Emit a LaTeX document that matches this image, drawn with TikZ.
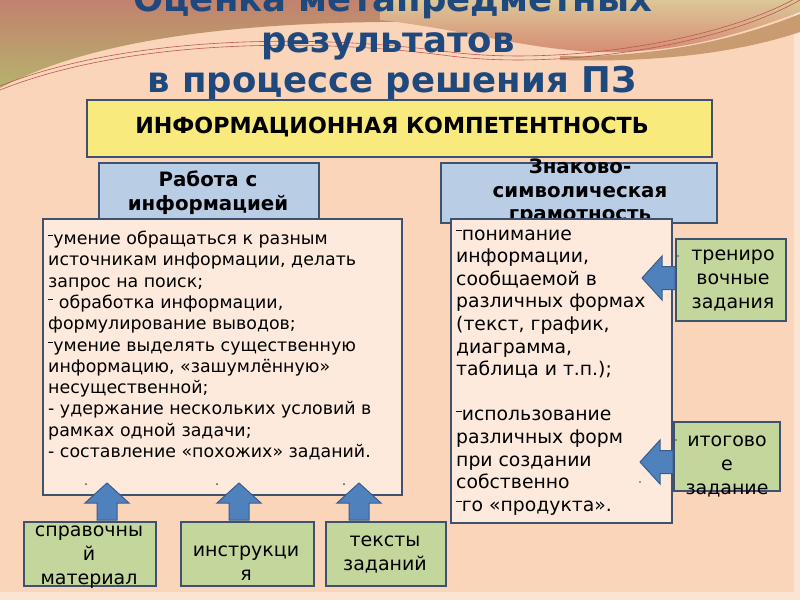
\documentclass[tikz,border=0pt]{standalone}
\usepackage{fontspec}
\setmainfont{DejaVu Sans}
\usetikzlibrary{calc}
\definecolor{bgc}{RGB}{250,213,186}
\definecolor{bgedge}{RGB}{252,228,210}
\definecolor{titlec}{RGB}{31,73,125}
\definecolor{framec}{RGB}{62,82,112}
\definecolor{yellowc}{RGB}{248,234,124}
\definecolor{bluec}{RGB}{185,205,229}
\definecolor{paperc}{RGB}{253,234,221}
\definecolor{greenc}{RGB}{195,214,155}
\definecolor{arrowc}{RGB}{79,129,189}
\definecolor{arrowedge}{RGB}{56,93,138}
\definecolor{decoA}{RGB}{194,130,110}
\definecolor{decoB}{RGB}{182,178,108}
\definecolor{decoC}{RGB}{220,198,152}
\definecolor{decoD}{RGB}{214,138,114}
\definecolor{decoE}{RGB}{200,155,112}
\definecolor{lineC}{RGB}{185,90,80}
\newcommand\blockL[1]{\vtop{\halign{##\hfil\cr#1\crcr}}}
\newcommand\blockC[1]{\vtop{\halign{\hfil##\hfil\cr#1\crcr}}}
\newcommand\hdash{\rule[0.47em]{0.3em}{0.07em}}
\newcommand\uparrowshape[3]{\filldraw[blockarrow] (#1,#2) -- (#1+22,#2+20) -- (#1+10,#2+20) -- (#1+10,#3) -- (#1-10,#3) -- (#1-10,#2+20) -- (#1-22,#2+20) -- cycle;}
\newcommand\leftarrowshape[3]{\filldraw[blockarrow] (#2,#1) -- (#2+20,#1-22) -- (#2+20,#1-11.5) -- (#3,#1-11.5) -- (#3,#1+11.5) -- (#2+20,#1+11.5) -- (#2+20,#1+22) -- cycle;}
\begin{document}
\begin{tikzpicture}[x=1pt,y=-1pt,
  frame/.style={draw=framec, line width=1.5pt, inner sep=0, anchor=north west},
  titletxt/.style={font=\fontsize{35.5}{40}\selectfont\bfseries, text=titlec, inner sep=0, anchor=base},
  bodyL/.style={font=\fontsize{17.4}{21.3}\selectfont, inner sep=0, anchor=base west},
  bodyR/.style={font=\fontsize{18.8}{22.6}\selectfont, inner sep=0, anchor=base west},
  headtxt/.style={font=\fontsize{19.8}{23.5}\selectfont\bfseries, inner sep=0, anchor=base},
  greentxt/.style={font=\fontsize{19}{24}\selectfont, inner sep=0, anchor=base},
  blockarrow/.style={fill=arrowc, draw=arrowedge, line width=1pt, line join=miter},
  tinydot/.style={fill=black!70, draw=none}]
\useasboundingbox (0,0) rectangle (800,600);
\clip (0,0) rectangle (800,600);
% background
\fill[bgc] (0,0) rectangle (800,600);
\fill[bgedge] (794,0) rectangle (800,600);
\fill[bgedge] (0,592) rectangle (800,600);
% decorative waves
\shade[top color=decoA, bottom color=decoB] (0,0) -- (440,0) -- (440,22) .. controls (260,20) and (100,35) .. (0,88) -- cycle;
\shade[top color=decoC, bottom color=decoD] (380,0) -- (800,0) -- (800,12) .. controls (730,38) and (680,50) .. (620,52) .. controls (540,54) and (470,30) .. (380,20) -- cycle;
\fill[decoE] (560,56) .. controls (660,58) and (740,38) .. (800,14) -- (800,32) .. controls (740,52) and (660,63) .. (560,60) -- cycle;
\draw[lineC, line width=0.6pt] (0,90) .. controls (120,42) and (300,36) .. (450,56) .. controls (560,70) and (720,46) .. (800,0);
\draw[lineC, line width=0.6pt] (0,86) .. controls (120,38) and (300,32) .. (450,52) .. controls (560,66) and (720,42) .. (800,-4);
% title
\node[titletxt] (t1) at (393,11) {Оценка метапредметных};
\node[titletxt] (t2) at (388,52) {результатов};
\node[titletxt] (t3) at (392,92) {в процессе решения ПЗ};
% main box
\node[frame, fill=yellowc, minimum width=625pt, minimum height=57pt] (info) at (86,99) {};
\node[font=\fontsize{22.2}{24}\selectfont\bfseries, inner sep=0] (infotxt) at (392,127) {ИНФОРМАЦИОННАЯ КОМПЕТЕНТНОСТЬ};
% category boxes
\node[frame, fill=bluec, minimum width=220pt, minimum height=60pt] (work) at (98,162) {};
\node[headtxt] (worktxt) at (208,186.5) {\blockC{Работа с\cr информацией}};
\node[frame, fill=bluec, minimum width=276pt, minimum height=60pt] (sign) at (440,162) {};
\node[headtxt] (signtxt) at (580,173.5) {\blockC{Знаково-\cr символическая\cr грамотность}};
% content boxes
\node[frame, fill=paperc, minimum width=359pt, minimum height=276pt] (left) at (42,218) {};
\node[bodyL] (lefttxt) at (48,244.5) {\blockL{\hdash умение обращаться к разным\cr
источникам информации, делать\cr
запрос на поиск;\cr
\hdash\ обработка информации,\cr
формулирование выводов;\cr
\hdash умение выделять существенную\cr
информацию, «зашумлённую»\cr
несущественной;\cr
- удержание нескольких условий в\cr
рамках одной задачи;\cr
- составление  «похожих» заданий.}};
\fill[tinydot] (86,484) circle (1pt);
\fill[tinydot] (217,484) circle (1pt);
\fill[tinydot] (344,484) circle (1pt);
\node[frame, fill=paperc, minimum width=221pt, minimum height=304pt] (right) at (450,218) {};
\node[bodyR] (righttxt) at (456,240) {\blockL{\hdash понимание\cr
информации,\cr
сообщаемой в\cr
различных формах\cr
(текст,  график,\cr
диаграмма,\cr
таблица и т.п.);\cr
\cr
\hdash использование\cr
различных форм\cr
при создании\cr
собственно\cr
\hdash го «продукта».}};
\fill[tinydot] (640,482) circle (0.9pt);
% side resource boxes
\node[frame, fill=greenc, minimum width=110pt, minimum height=82pt] (train) at (675,238) {};
\node[greentxt] (traintxt) at (733,260.5) {\blockC{трениро\cr вочные\cr задания}};
\fill[tinydot] (678,256) circle (0.8pt);
\node[frame, fill=greenc, minimum width=106pt, minimum height=69pt] (final) at (673,421) {};
\node[greentxt] (finaltxt) at (727,446.5) {\blockC{итогово\cr е\cr задание}};
\fill[tinydot] (676,440) circle (0.8pt);
% bottom resource boxes
\node[frame, fill=greenc, minimum width=132pt, minimum height=64pt] (ref) at (23,521) {};
\node[greentxt] (reftxt) at (89,536.5) {\blockC{справочны\cr й\cr материал}};
\node[frame, fill=greenc, minimum width=133pt, minimum height=64pt] (instr) at (180,521) {};
\node[greentxt] (instrtxt) at (246,556.5) {\blockC{инструкци\cr я}};
\node[frame, fill=greenc, minimum width=120pt, minimum height=64pt] (texts) at (325,521) {};
\node[greentxt] (textstxt) at (385,546.5) {\blockC{тексты\cr заданий}};
% block arrows
\uparrowshape{107}{483}{520}
\uparrowshape{239}{483}{520}
\uparrowshape{359}{483}{520}
\leftarrowshape{278}{642}{675}
\leftarrowshape{462}{640}{673}
\end{tikzpicture}
\end{document}
